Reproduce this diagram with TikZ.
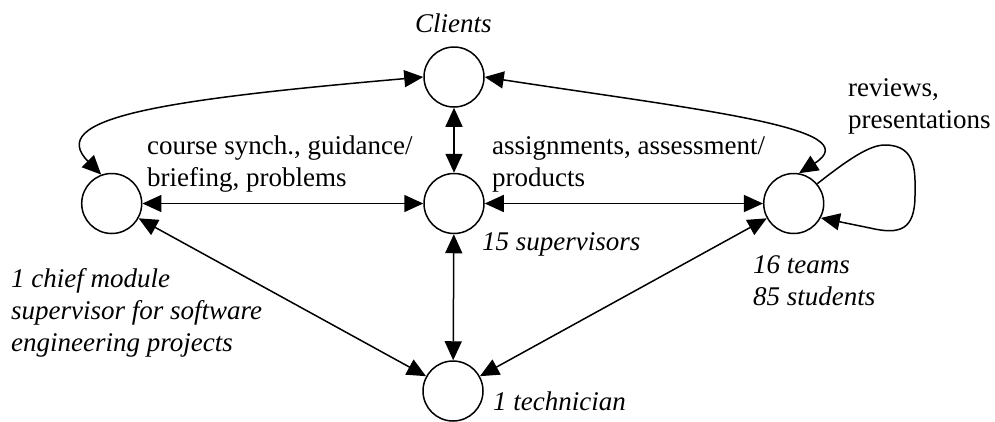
\documentclass[tikz,border=0pt]{standalone}
\usepackage{fontspec}
\setmainfont{Liberation Serif}
\usetikzlibrary{arrows.meta}
\begin{document}
\begin{tikzpicture}[x=1pt,y=-1pt,
  actor/.style={circle,draw,line width=1.5pt,minimum size=60pt,inner sep=0pt},
  lbl/.style={anchor=base west,inner sep=0pt,align=left,font=\fontsize{27}{32}\selectfont},
  ilbl/.style={lbl,font=\fontsize{27}{32}\selectfont\itshape},
  link/.style={line width=1.5pt,{Triangle[length=19pt,width=17pt]}-{Triangle[length=19pt,width=17pt]}},
  self/.style={line width=1.5pt,-{Triangle[length=19pt,width=17pt]}}]
\useasboundingbox (0,0) rectangle (995,421);
\node[actor] (cl) at (454,77) {};
\node[actor] (sup) at (454,203.5) {};
\node[actor] (ch) at (111.7,203.5) {};
\node[actor] (tm) at (793.7,203.5) {};
\node[actor] (tech) at (453,391) {};
\draw[link] (ch) -- (sup);
\draw[link] (sup) -- (tm);
\draw[link] (cl) -- (sup);
\draw[link] (sup) -- (tech);
\draw[link] (ch) -- (tech);
\draw[link] (tm) -- (tech);
\draw[link] (cl.west) .. controls (160,100) and (45,118) .. (ch.110);
\draw[link] (cl.east) .. controls (700,110) and (870,128) .. (tm.80);
\draw[self] (tm.40) .. controls (850,158) and (870,145) .. (885,145) .. controls (918,145) and (915,175) .. (915,195) .. controls (915,230) and (900,235) .. (870,228) -- (tm.-28);
\node[ilbl] (tcl) at (415,32) {Clients};
\node[lbl] (tcs) at (147,186.7) {course synch., guidance/\\briefing, problems};
\node[lbl] (tas) at (492,186.7) {assignments, assessment/\\products};
\node[lbl] (trv) at (848,128) {reviews,\\presentations};
\node[ilbl] (tsup) at (482,250) {15 supervisors};
\node[ilbl] (tch) at (11,351.7) {1 chief module\\supervisor for software\\engineering projects};
\node[ilbl] (ttm) at (753,305) {16 teams\\85 students};
\node[ilbl] (tte) at (493,410) {1 technician};
\end{tikzpicture}
\end{document}
